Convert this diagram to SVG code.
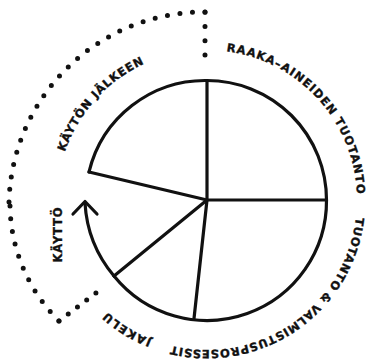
<svg xmlns="http://www.w3.org/2000/svg" xmlns:xlink="http://www.w3.org/1999/xlink" width="366" height="361" viewBox="0 0 366 361">
  <defs>
    <path id="ring" d="M207,50 A150,150 0 1 1 207,350 A150,150 0 1 1 207,50"/>
    <style>
      .line { fill: none; stroke: #111; stroke-width: 3.2; stroke-linecap: round; stroke-linejoin: round; }
      .dots { fill: none; stroke: #111; stroke-width: 5; stroke-linecap: round; stroke-dasharray: 0 1; }
      .lbl { font-family: "DejaVu Sans", Inter, sans-serif; font-weight: bold; font-size: 11.5px; fill: #111; stroke: #111; stroke-width: 0.35; }
    </style>
  </defs>
  <rect width="366" height="361" fill="#fff"/>

  <g id="pie">
    <path class="line" d="M89,172 A119.5,119.5 0 0 1 207,80.5 A119.5,119.5 0 0 1 326.5,200 A119.5,119.5 0 0 1 114,276"/>
    <line class="line" x1="207" y1="200" x2="207" y2="80.5"/>
    <line class="line" x1="207" y1="200" x2="326.5" y2="200"/>
    <line class="line" x1="207" y1="200" x2="194" y2="318.5"/>
    <line class="line" x1="207" y1="200" x2="114" y2="276"/>
    <line class="line" x1="207" y1="200" x2="89" y2="172"/>
  </g>

  <g id="connectors">
    <path class="line" d="M114,276 A124,124 0 0 1 85,203"/>
    <polyline class="line" points="73,214 85,201.5 97,214"/>
    <path class="dots" pathLength="3.01" d="M205,55 L205,12"/>
    <path class="dots" pathLength="24.01" d="M205,12 A195,195 0 0 0 9,202"/>
    <path class="dots" pathLength="10.01" d="M10,206 A166,166 0 0 0 59,321"/>
    <path class="dots" pathLength="4.01" d="M59,321 L96,293"/>
  </g>

  <g id="label-raaka">
    <text class="lbl"><textPath xlink:href="#ring" href="#ring" startOffset="124.4" text-anchor="middle" textLength="210" lengthAdjust="spacing">RAAKA–AINEIDEN TUOTANTO</textPath></text>
  </g>
  <g id="label-tuotanto">
    <text class="lbl"><textPath xlink:href="#ring" href="#ring" startOffset="380.2" text-anchor="middle" textLength="254" lengthAdjust="spacing">TUOTANTO &amp; VALMISTUSPROSESSIT</textPath></text>
  </g>
  <g id="label-jakelu">
    <text class="lbl"><textPath xlink:href="#ring" href="#ring" startOffset="553.8" text-anchor="middle" textLength="53" lengthAdjust="spacing">JAKELU</textPath></text>
  </g>
  <g id="label-kaytto">
    <text class="lbl" transform="translate(62.3,235) rotate(-90)" text-anchor="middle" textLength="55" lengthAdjust="spacing">KÄYTTÖ</text>
  </g>
  <g id="label-kayton-jalkeen">
    <text class="lbl"><textPath xlink:href="#ring" href="#ring" startOffset="816.3" text-anchor="middle" textLength="122" lengthAdjust="spacing">KÄYTÖN JÄLKEEN</textPath></text>
  </g>
</svg>
